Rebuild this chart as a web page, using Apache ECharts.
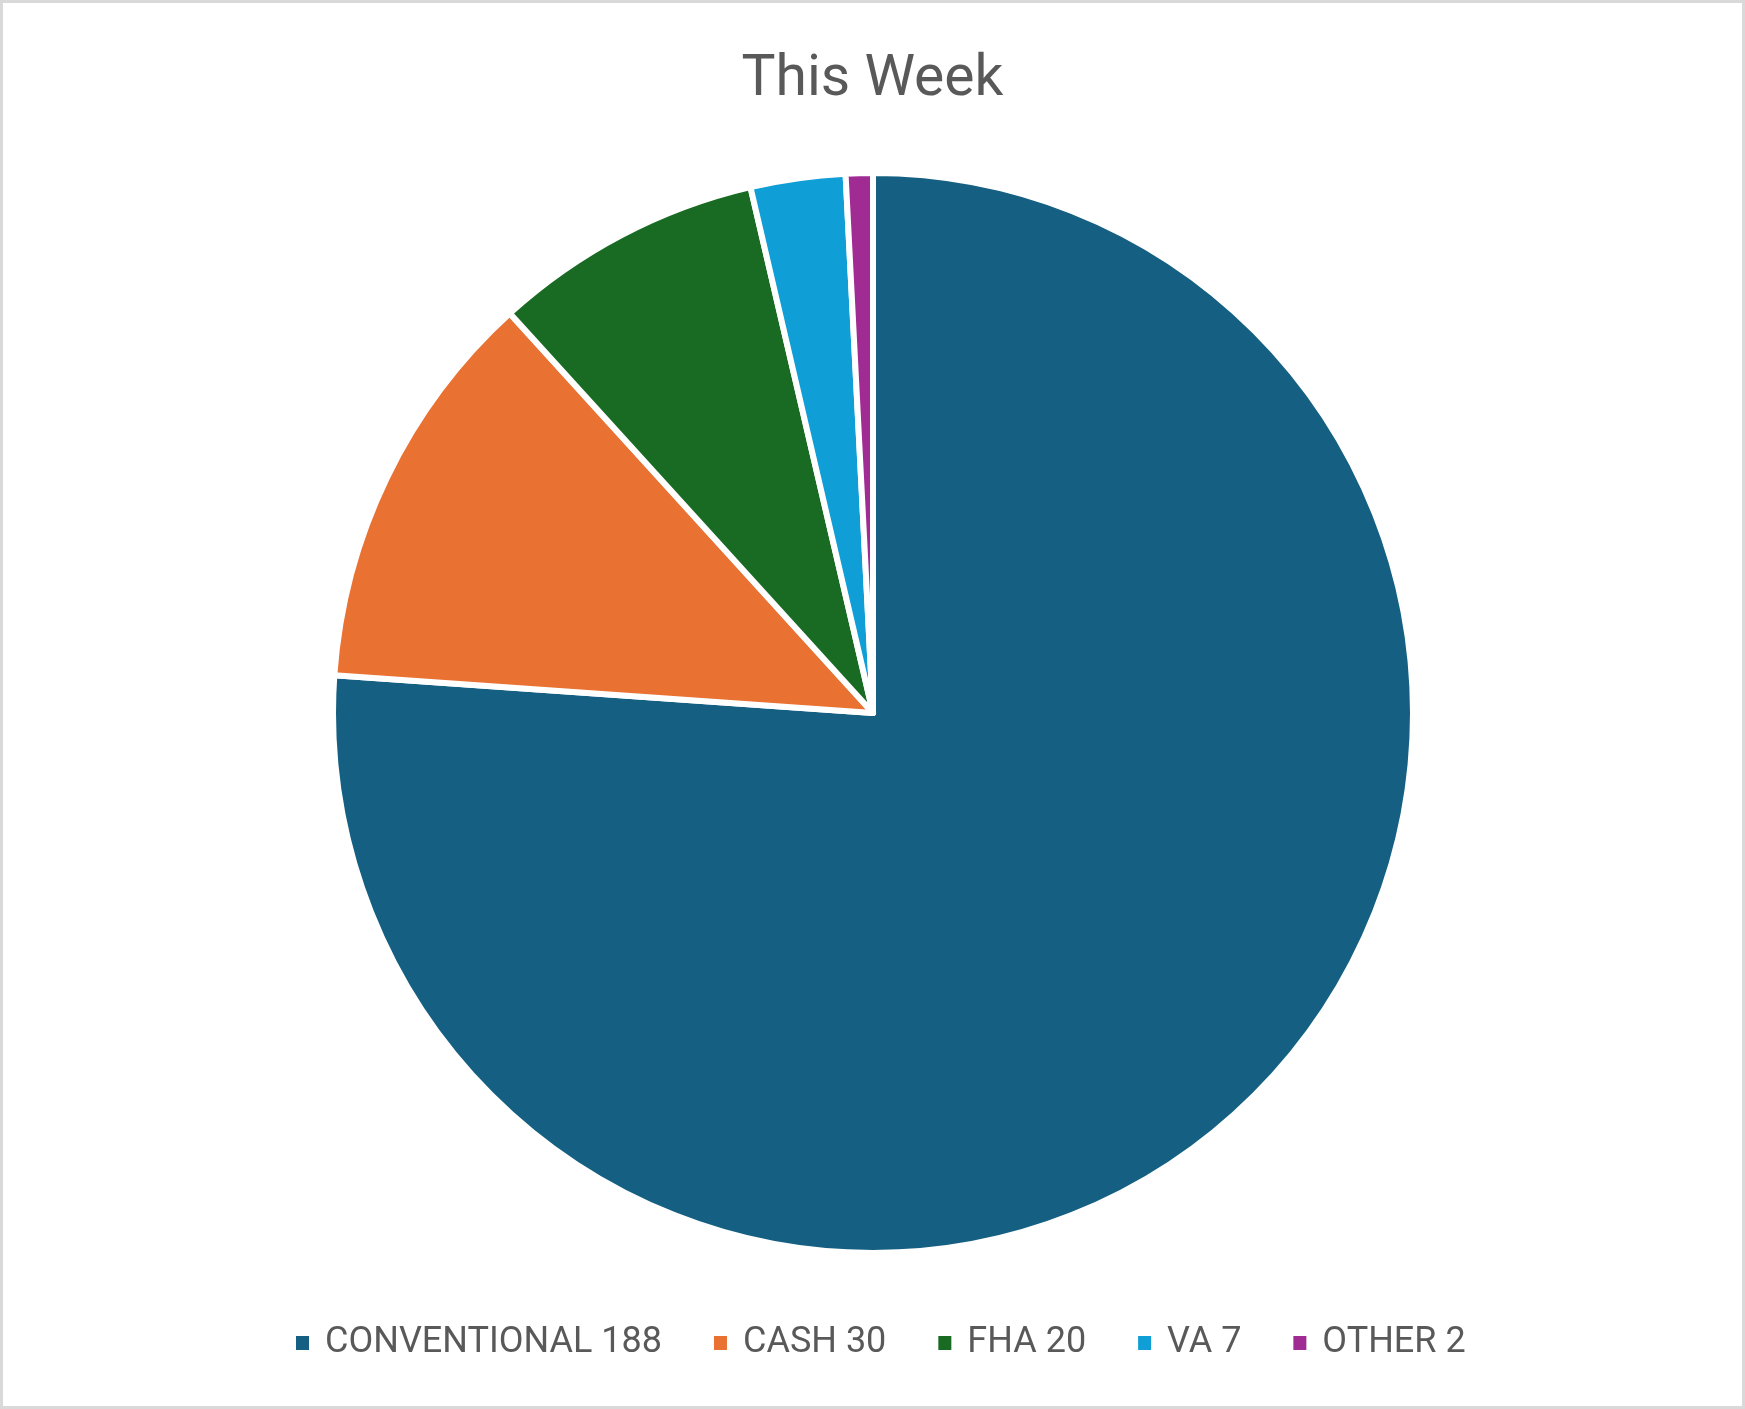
<!DOCTYPE html>
<html>
<head>
<meta charset="utf-8">
<script src="https://cdn.jsdelivr.net/npm/echarts@6/dist/echarts.min.js"></script>
<style>
html,body{margin:0;padding:0;background:#fff;}
#c{width:1745px;height:1409px;}
</style>
</head>
<body>
<div id="c"></div>
<script>
const categories = ['CONVENTIONAL', 'CASH', 'FHA', 'VA', 'OTHER'];
const values = [188, 30, 20, 7, 2];
const colors = ['#156082', '#E97132', '#196B24', '#0F9ED5', '#A02B93'];
const titleText = 'This Week';

const chart = echarts.init(document.getElementById('c'), null, {renderer: 'canvas'});
const data = categories.map((n, i) => ({name: n, value: values[i], itemStyle: {color: colors[i]}}));
chart.setOption({
  backgroundColor: '#ffffff',
  animation: false,
  title: {
    text: titleText,
    left: 'center',
    top: 45,
    textStyle: {fontFamily: 'Roboto', fontSize: 57, fontWeight: 'normal', color: '#595959', lineHeight: 62}
  },
  legend: {
    top: 1320,
    left: 289,
    itemWidth: 15,
    itemHeight: 16,
    itemGap: 50,
    icon: 'rect',
    textStyle: {fontFamily: 'Roboto', fontSize: 36, color: '#595959', padding: [0, 0, 0, 10]},
    formatter: function (name) {
      const i = categories.indexOf(name);
      return name + ' ' + values[i];
    },
    data: categories
  },
  graphic: [{
    type: 'rect',
    shape: {x: 1.5, y: 1.5, width: 1742, height: 1406},
    style: {fill: 'none', stroke: '#d9d9d9', lineWidth: 3},
    silent: true
  }],
  series: [{
    type: 'pie',
    center: [873, 713],
    radius: 540,
    startAngle: 90,
    clockwise: true,
    label: {show: false},
    labelLine: {show: false},
    itemStyle: {borderColor: '#ffffff', borderWidth: 6},
    emphasis: {disabled: true},
    data: data
  }]
});
</script>
</body>
</html>
